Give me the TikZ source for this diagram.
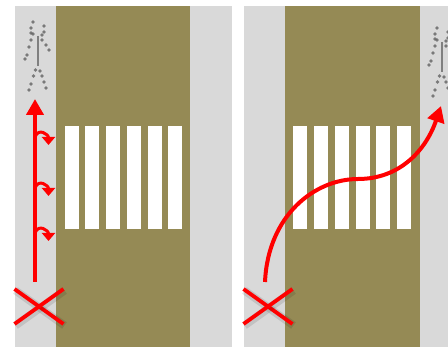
\documentclass[tikz,border=0pt]{standalone}
\usepackage{xcolor}
\usetikzlibrary{arrows.meta}
\definecolor{kerbclr}{RGB}{217,217,217}
\definecolor{roadclr}{RGB}{149,138,85}
\definecolor{markclr}{RGB}{255,0,0}
\tikzset{
  kerb/.style={fill=kerbclr,draw=none},
  road/.style={fill=roadclr,draw=none},
  stripe/.style={fill=white,draw=none},
  route/.style={markclr,line width=4pt,-{Triangle[length=16pt,width=17pt]}},
  curl/.style={markclr,line width=3pt,-{Triangle[length=8pt,width=13pt]}},
  crossbar/.style={markclr,line width=3.8pt},
  crossshade/.style={black,opacity=.1,line width=8pt},
  dot/.style={circle,fill=black!65,opacity=.75,minimum size=3.6pt,inner sep=0pt},
  walker/.pic={
    \draw[black!50,line width=2.2pt] (38,36) -- (38,66);
    \foreach \x/\y in {33/22,31/28,31/33,33/34,44/26,44/32,42/35,
                       31/40,29/47,27/55,25/59,42/40,46/45,49/50,
                       35.5/70,33.5/76,31/84,29/90,40/71,42/76,44/82,46/88}
      \node[dot] at (\x,\y) {};
  },
}
\begin{document}
\begin{tikzpicture}[x=1pt,y=-1pt]
\useasboundingbox (0,0) rectangle (448,347);
% left panel
\fill[kerb] (15,6) rectangle (232,347);
\fill[road] (56,6) rectangle (190,347);
\foreach \x in {65,85,106,127,148,168}
  \fill[stripe] (\x,126) rectangle ++(14,103);
% right panel
\fill[kerb] (244,6) rectangle (448,347);
\fill[road] (285,6) rectangle (420,347);
\foreach \x in {293,314,335,356,376,397}
  \fill[stripe] (\x,126) rectangle ++(14,103);
% people
\pic at (0,0) {walker};
\pic at (404,6) {walker};
% crosses
\foreach \n/\x in {lcross/39,rcross/268}{
  \coordinate (\n) at (\x,306.5);
  \foreach \dx/\dy in {24.5/17.5,24.5/-17.5}{
    \draw[crossshade] ([shift={(-\dx+1,-\dy+1.5)}]\n) -- ([shift={(\dx+1,\dy+1.5)}]\n);
    \draw[crossbar] ([shift={(-\dx,-\dy)}]\n) -- ([shift={(\dx,\dy)}]\n);
  }
}
% left route
\coordinate (lstart) at (35,282);
\coordinate (lend) at (35,99);
\draw[route] (lstart) -- (lend);
\foreach \i/\y/\t in {a/137/145,b/188/196,c/233/241}{
  \coordinate (c\i) at (35,\y);
  \coordinate (t\i) at (48.5,\t);
  \draw[curl] (c\i) to[out=70,in=90,looseness=1.7] (t\i);
}
% right route
\coordinate (rstart) at (265,282);
\coordinate (rmid) at (358,179);
\coordinate (rend) at (441,106);
\draw[route] (rstart) .. controls (268,215) and (315,179) .. (rmid)
  .. controls (400,179) and (426,150) .. (rend);
\end{tikzpicture}
\end{document}
